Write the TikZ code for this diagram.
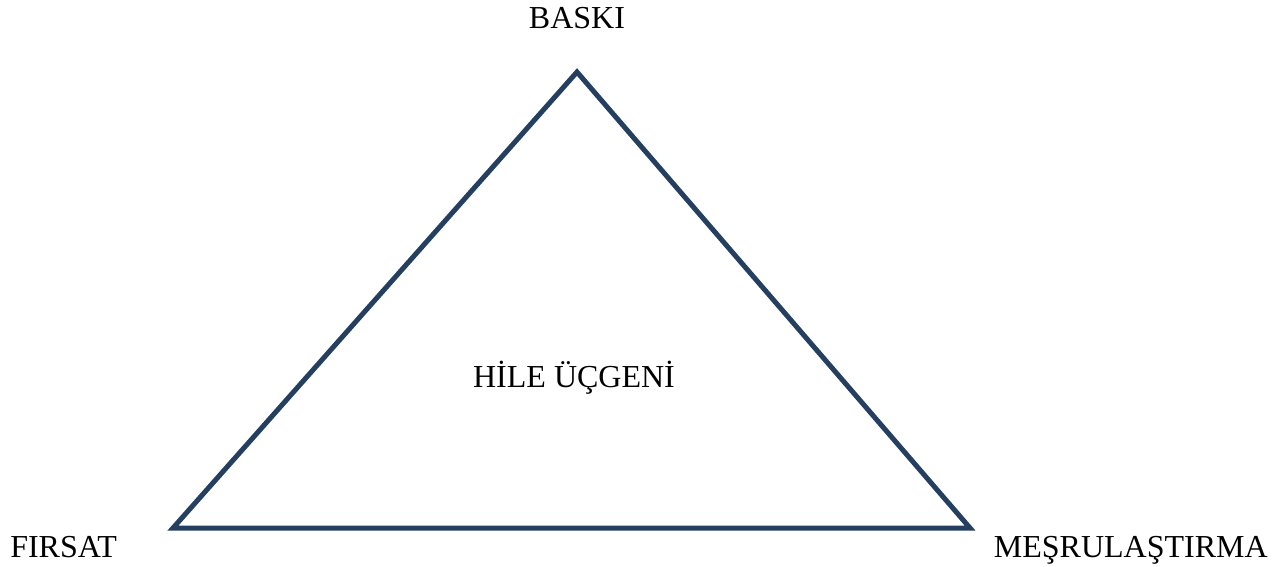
\documentclass[tikz,border=0pt]{standalone}
\usepackage{fontspec}
\setmainfont{Liberation Serif}
\usepackage{xcolor}
\usetikzlibrary{positioning}
\definecolor{triblue}{HTML}{243F60}

\begin{document}
\begin{tikzpicture}[
    x=0.75pt, y=-0.75pt,
    side/.style={draw=triblue, line width=3.75pt, miter limit=20},
    label/.style={font=\fontsize{24}{29}\selectfont, inner sep=0pt},
]
\useasboundingbox (0,0) rectangle (1275,567);
% Corners
\coordinate (apex) at (577,72);
\coordinate (left) at (173,528);
\coordinate (right) at (970,528);

% Triangle
\draw[side] (apex) -- (left) -- (right) -- cycle;

% Labels
\node[label, anchor=base] (baski) at (577,29) {BASKI};
\node[label, anchor=base west] (firsat) at (10,557) {FIRSAT};
\node[label, anchor=base east] (mesru) at (1268,557) {MEŞRULAŞTIRMA};
\node[label, anchor=base] (hile) at (574,387) {HİLE ÜÇGENİ};
\end{tikzpicture}
\end{document}
